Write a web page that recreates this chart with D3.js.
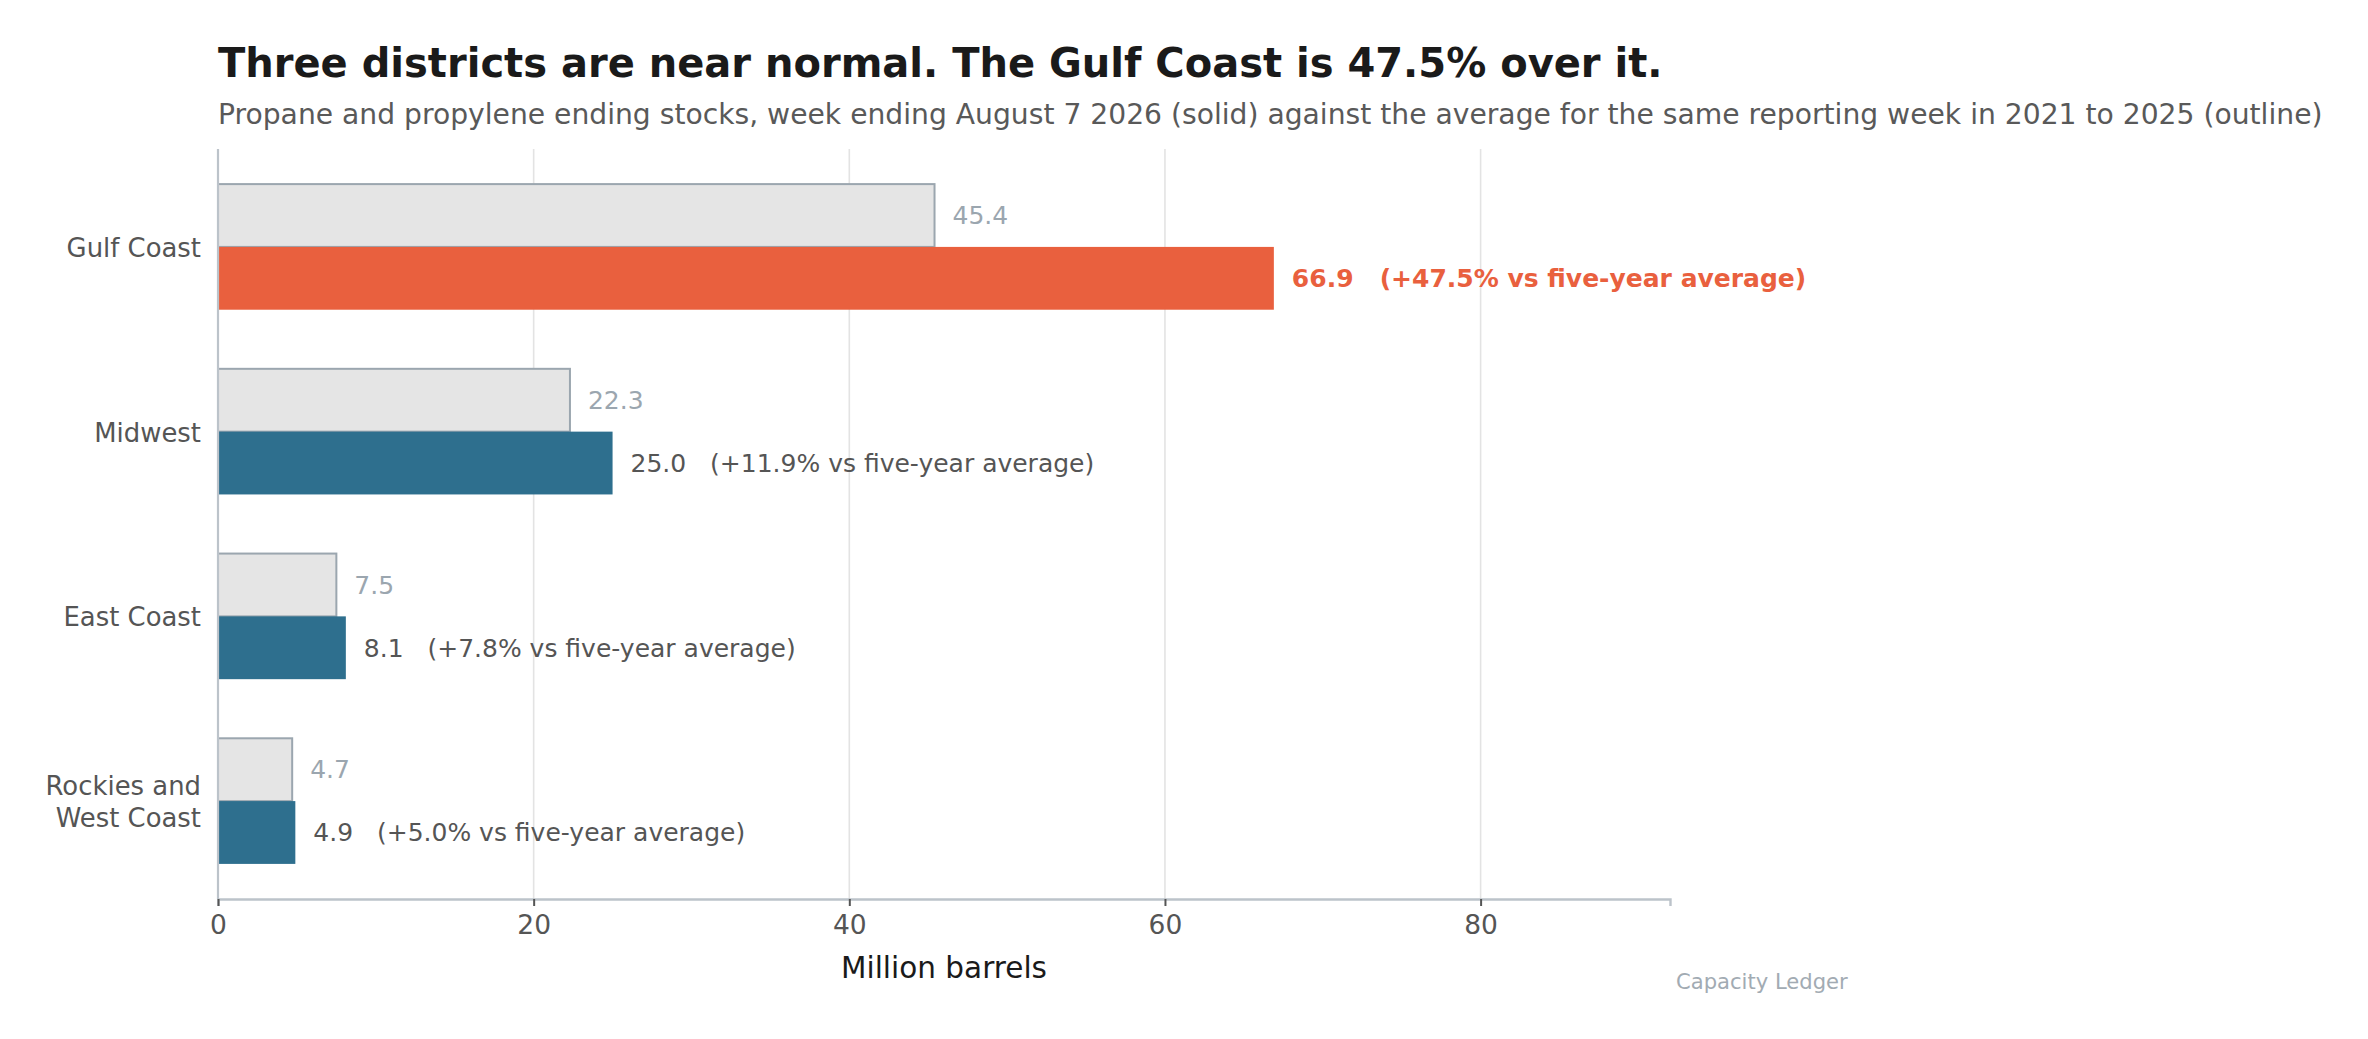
<!DOCTYPE html>
<html>
<head>
<meta charset="utf-8">
<script src="https://cdn.jsdelivr.net/npm/d3@7"></script>
<style>
  body { margin: 0; background: #fff; }
  text { font-family: "DejaVu Sans", sans-serif; }
</style>
</head>
<body>
<div id="chart"></div>
<script>
// districts, top to bottom
var districts = ['Gulf Coast', 'Midwest', 'East Coast', 'Rockies and West Coast'];
var district_lines = [['Gulf Coast'], ['Midwest'], ['East Coast'], ['Rockies and', 'West Coast']];
var current_stocks = [66.9, 25.0, 8.1, 4.9];   // week ending Aug 7 2026 (solid)
var five_year_avg = [45.4, 22.3, 7.5, 4.7];    // 2021-2025 average (outline)
var pct_vs_avg = ['+47.5%', '+11.9%', '+7.8%', '+5.0%'];
var x_ticks = [0, 20, 40, 60, 80];

var chart_width = 2368;
var chart_height = 1039;
var plot_left = 218, plot_right = 1670, plot_top = 149, plot_bottom = 899;

var svg = d3.select('#chart')
    .append('svg')
    .attr('width', chart_width)
    .attr('height', chart_height);

// Escalas
var x_scale = d3.scaleLinear()
    .domain([0, 92])
    .range([plot_left, plot_right]);

var y_scale = d3.scaleBand()
    .domain(districts)
    .range([plot_top, plot_bottom])
    .paddingInner(0.32)
    .paddingOuter(0.19);

var half = y_scale.bandwidth() / 2;

// titulos
svg.append('text')
    .attr('x', plot_left)
    .attr('y', 77)
    .attr('font-size', 40)
    .attr('font-weight', 'bold')
    .attr('fill', '#1a1a1a')
    .text('Three districts are near normal. The Gulf Coast is 47.5% over it.');

svg.append('text')
    .attr('x', plot_left)
    .attr('y', 124)
    .attr('font-size', 28.2)
    .attr('fill', '#595959')
    .text('Propane and propylene ending stocks, week ending August 7 2026 (solid) against the average for the same reporting week in 2021 to 2025 (outline)');

// grid
svg.append('g')
    .selectAll('line')
    .data(x_ticks)
    .enter()
    .append('line')
    .attr('x1', function (d) { return x_scale(d); })
    .attr('x2', function (d) { return x_scale(d); })
    .attr('y1', plot_top)
    .attr('y2', plot_bottom)
    .attr('stroke', '#e3e3e3')
    .attr('stroke-width', 1.6);

// barras media (outline)
svg.append('g')
    .selectAll('rect')
    .data(districts)
    .enter()
    .append('rect')
    .attr('x', x_scale(0))
    .attr('y', function (d) { return y_scale(d); })
    .attr('width', function (d, i) { return x_scale(five_year_avg[i]) - x_scale(0); })
    .attr('height', half)
    .attr('fill', '#e5e5e5')
    .attr('stroke', '#9ba6af')
    .attr('stroke-width', 2);

// barras atuais
svg.append('g')
    .selectAll('rect')
    .data(districts)
    .enter()
    .append('rect')
    .attr('x', x_scale(0))
    .attr('y', function (d) { return y_scale(d) + half; })
    .attr('width', function (d, i) { return x_scale(current_stocks[i]) - x_scale(0); })
    .attr('height', half)
    .attr('fill', function (d, i) { return i === 0 ? '#e9603e' : '#2e6f8e'; });

// eixos
svg.append('line')
    .attr('x1', plot_left).attr('x2', plot_left)
    .attr('y1', plot_top).attr('y2', plot_bottom)
    .attr('stroke', '#bcc3ca')
    .attr('stroke-width', 2.2);

var x_axis = d3.axisBottom(x_scale)
    .tickValues(x_ticks)
    .tickSize(7)
    .tickPadding(9);

var gx = svg.append('g')
    .attr('transform', 'translate(0,' + plot_bottom + ')')
    .call(x_axis);
gx.select('.domain')
    .attr('stroke', '#bcc3ca')
    .attr('stroke-width', 2.4);
gx.selectAll('.tick line')
    .attr('stroke', '#555')
    .attr('stroke-width', 2);
gx.selectAll('.tick text')
    .attr('font-family', '"DejaVu Sans", sans-serif')
    .attr('font-size', 26.5)
    .attr('fill', '#555');

svg.append('text')
    .attr('x', (plot_left + plot_right) / 2)
    .attr('y', 978)
    .attr('text-anchor', 'middle')
    .attr('font-size', 29.5)
    .attr('fill', '#1a1a1a')
    .text('Million barrels');

// rotulos das categorias
var cat = svg.append('g')
    .selectAll('text')
    .data(districts)
    .enter()
    .append('text')
    .attr('text-anchor', 'end')
    .attr('font-size', 25.9)
    .attr('fill', '#555');

cat.each(function (d, i) {
    var lines = district_lines[i];
    var cy = y_scale(d) + half;
    var first = cy + 10 - (lines.length - 1) * 16;
    d3.select(this).selectAll('tspan')
        .data(lines)
        .enter()
        .append('tspan')
        .attr('x', 201)
        .attr('y', function (l, j) { return first + j * 32; })
        .text(function (l) { return l; });
});

// rotulos dos valores
svg.append('g')
    .selectAll('text')
    .data(districts)
    .enter()
    .append('text')
    .attr('x', function (d, i) { return x_scale(five_year_avg[i]) + 18; })
    .attr('y', function (d) { return y_scale(d) + half / 2; })
    .attr('dy', '0.35em')
    .attr('font-size', 25)
    .attr('fill', '#9ba6af')
    .text(function (d, i) { return five_year_avg[i].toFixed(1); });

svg.append('g')
    .selectAll('text')
    .data(districts)
    .enter()
    .append('text')
    .attr('x', function (d, i) { return x_scale(current_stocks[i]) + 18; })
    .attr('y', function (d) { return y_scale(d) + half * 1.5; })
    .attr('dy', '0.35em')
    .attr('font-size', 25)
    .attr('font-weight', function (d, i) { return i === 0 ? 'bold' : 'normal'; })
    .attr('fill', function (d, i) { return i === 0 ? '#e9603e' : '#555'; })
    .style('white-space', 'pre')
    .text(function (d, i) {
        return current_stocks[i].toFixed(1) + '   (' + pct_vs_avg[i] + ' vs five-year average)';
    });

svg.append('text')
    .attr('x', 1676)
    .attr('y', 989)
    .attr('font-size', 21.1)
    .attr('fill', '#a2abb3')
    .text('Capacity Ledger');
</script>
</body>
</html>
